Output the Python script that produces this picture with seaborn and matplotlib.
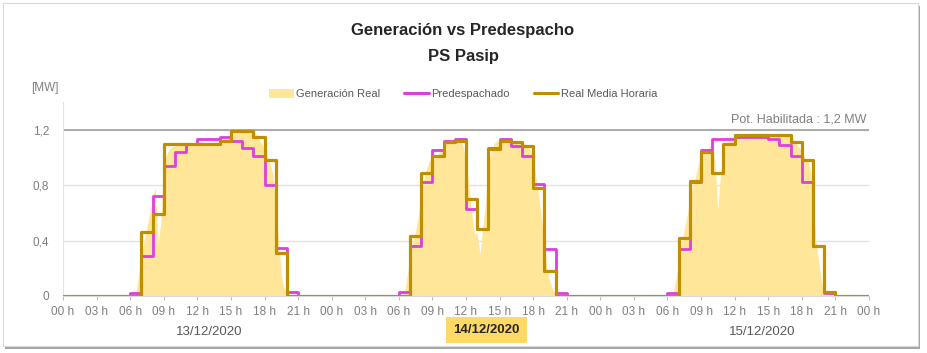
import numpy as np
import pandas as pd
import matplotlib
matplotlib.use("Agg")
import matplotlib.pyplot as plt
import matplotlib.transforms as mtransforms
from matplotlib.patches import Patch, Rectangle
from matplotlib.lines import Line2D
import seaborn as sns

# fechas y etiquetas
dias = ['13/12/2020', '14/12/2020', '15/12/2020']
horas_ticks = list(range(0, 73, 3))
horas_labels = ['%02d h' % (h % 24) for h in horas_ticks]
pos_fechas = [13.1, 37.8, 62.5]

# Predespachado, valores horarios [MW]
pred_d1 = [0, 0, 0, 0, 0, 0, 0.02, 0.29, 0.72, 0.94, 1.04, 1.10, 1.13, 1.13, 1.15, 1.12, 1.07, 1.01, 0.80, 0.35, 0.03, 0, 0, 0]
pred_d2 = [0, 0, 0, 0, 0, 0, 0.03, 0.36, 0.82, 1.05, 1.12, 1.13, 0.63, 0.48, 1.07, 1.13, 1.08, 1.01, 0.81, 0.34, 0.02, 0, 0, 0]
pred_d3 = [0, 0, 0, 0, 0, 0, 0.02, 0.34, 0.82, 1.05, 1.13, 1.13, 1.15, 1.15, 1.15, 1.13, 1.09, 1.01, 0.82, 0.36, 0.02, 0, 0, 0]

# Real media horaria [MW]
real_d1 = [0, 0, 0, 0, 0, 0, 0, 0.46, 0.59, 1.10, 1.10, 1.10, 1.10, 1.10, 1.12, 1.19, 1.19, 1.15, 0.98, 0.31, 0, 0, 0, 0]
real_d2 = [0, 0, 0, 0, 0, 0, 0, 0.43, 0.89, 1.01, 1.11, 1.12, 0.70, 0.48, 1.06, 1.12, 1.11, 1.08, 0.78, 0.18, 0, 0, 0, 0]
real_d3 = [0, 0, 0, 0, 0, 0, 0, 0.42, 0.83, 1.04, 0.89, 1.10, 1.16, 1.16, 1.16, 1.16, 1.16, 1.11, 0.98, 0.36, 0.03, 0, 0, 0]

# Generacion real cada 15 min, de 06:00 a 21:00 (fuera de ese rango = 0)
gen_d1 = [0, 0, 0.02, 0.15,
          0.30, 0.40, 0.50, 0.60,
          0.72, 0.78, 0.37, 0.55,
          0.95, 1.02, 1.06, 1.08,
          1.08, 1.09, 1.09, 1.10,
          1.10, 1.10, 1.10, 1.10,
          1.10, 1.10, 1.10, 1.10,
          1.10, 1.10, 1.11, 1.11,
          1.11, 1.12, 1.12, 1.15,
          1.18, 1.19, 1.19, 1.19,
          1.19, 1.19, 1.19, 1.19,
          1.19, 1.17, 1.13, 1.10,
          1.06, 1.02, 0.95, 0.88,
          0.65, 0.40, 0.15, 0.05,
          0.02, 0.01, 0, 0,
          0]
gen_d2 = [0, 0, 0.03, 0.15,
          0.28, 0.38, 0.47, 0.58,
          0.75, 0.85, 0.93, 0.98,
          0.98, 1.00, 1.02, 1.05,
          1.08, 1.10, 1.12, 1.13,
          1.13, 1.13, 1.12, 1.08,
          0.95, 0.80, 0.60, 0.45,
          0.45, 0.30, 0.50, 0.68,
          0.95, 1.05, 1.10, 1.12,
          1.12, 1.13, 1.12, 1.11,
          1.11, 1.11, 1.11, 1.10,
          1.10, 1.10, 1.08, 1.05,
          0.98, 0.85, 0.72, 0.55,
          0.38, 0.18, 0.10, 0.05,
          0.01, 0, 0, 0,
          0]
gen_d3 = [0, 0, 0.02, 0.12,
          0.25, 0.38, 0.48, 0.58,
          0.70, 0.80, 0.86, 0.95,
          1.00, 1.03, 1.05, 1.08,
          1.10, 0.95, 0.62, 0.90,
          1.05, 1.10, 1.12, 1.14,
          1.15, 1.16, 1.16, 1.16,
          1.16, 1.16, 1.16, 1.16,
          1.16, 1.16, 1.16, 1.16,
          1.16, 1.16, 1.16, 1.16,
          1.16, 1.16, 1.16, 1.16,
          1.15, 1.13, 1.10, 1.07,
          1.04, 1.00, 0.97, 0.92,
          0.70, 0.40, 0.25, 0.10,
          0.05, 0.03, 0.02, 0.01,
          0]

pot_habilitada = 1.2

c_gen = '#FFE699'
c_pred = '#DD3FDD'
c_real = '#BF8F00'
c_gris = '#7F7F7F'

# tablas
pred = pred_d1 + pred_d2 + pred_d3
real = real_d1 + real_d2 + real_d3
df_h = pd.DataFrame({'hora': np.arange(73),
                     'pred': pred + [pred[-1]],
                     'real': real + [real[-1]]})

gen = np.zeros(72 * 4 + 1)
for i, g in enumerate([gen_d1, gen_d2, gen_d3]):
    ini = (24 * i + 6) * 4
    gen[ini:ini + len(g)] = g
df_g = pd.DataFrame({'hora': np.arange(len(gen)) / 4.0, 'gen': gen})

sns.set_style('white')
plt.rcParams['font.family'] = ['Liberation Sans', 'DejaVu Sans']

fig = plt.figure(figsize=(9.27, 3.53), dpi=100)

# marco con sombra
fig.patches.append(Rectangle((5 / 927, 4 / 353), 915 / 927, 343 / 353, transform=fig.transFigure,
                             facecolor='#A6A6A6', edgecolor='none', zorder=-2))
fig.patches.append(Rectangle((3 / 927, 7 / 353), 915 / 927, 343 / 353, transform=fig.transFigure,
                             facecolor='white', edgecolor='#D9D9D9', lw=0.8, zorder=-1))

ax = fig.add_axes([63 / 927, 1 - 296 / 353, (869 - 63) / 927, (296 - 102) / 353])

ax.fill_between(df_g['hora'], df_g['gen'], color=c_gen, lw=0, zorder=1)
sns.lineplot(data=df_h, x='hora', y='pred', ax=ax, drawstyle='steps-post', color=c_pred, lw=2.0, zorder=3)
sns.lineplot(data=df_h, x='hora', y='real', ax=ax, drawstyle='steps-post', color=c_real, lw=2.3, zorder=4)

ax.axhline(pot_habilitada, color='#A0A0A0', lw=1.2, zorder=2)
ax.text(71.8, pot_habilitada + 0.03, 'Pot. Habilitada : 1,2 MW', ha='right', va='bottom',
        fontsize=9, color=c_gris)

ax.set_xlim(0, 72)
ax.set_ylim(0, 1.4)
ax.set_yticks([0, 0.4, 0.8, 1.2])
ax.set_yticklabels(['0', '0,4', '0,8', '1,2'])
ax.set_xticks(horas_ticks)
ax.set_xticklabels(horas_labels)
ax.grid(axis='y', color='#E3E3E3', lw=1)
ax.set_axisbelow(True)
ax.tick_params(axis='x', colors='#BFBFBF', labelcolor=c_gris, labelsize=8.5, length=3, width=0.8, pad=4,
               bottom=True)
ax.tick_params(axis='y', labelcolor=c_gris, labelsize=8.5, length=0, pad=10)
ax.set_xlabel('')
ax.set_ylabel('')
for s in ['top', 'right']:
    ax.spines[s].set_visible(False)
ax.spines['left'].set_color('#E3E3E3')
ax.spines['bottom'].set_color('#D9D9D9')

# fechas debajo de las horas
trans = mtransforms.blended_transform_factory(ax.transData, fig.transFigure)
for i, (d, x) in enumerate(zip(dias, pos_fechas)):
    if i == 1:
        ax.text(x, 1 - 330 / 353, d, transform=trans, ha='center', va='center', fontsize=9.5,
                fontweight='bold', color='#262626',
                bbox=dict(boxstyle='square,pad=0.55', facecolor='#FFD966', edgecolor='none'))
    else:
        ax.text(x, 1 - 332 / 353, d, transform=trans, ha='center', va='center', fontsize=9.5, color='#595959')

fig.text(463 / 927, 1 - 31 / 353, 'Generación vs Predespacho', ha='center', va='center',
         fontsize=12, fontweight='bold', color='#262626')
fig.text(463 / 927, 1 - 56 / 353, 'PS Pasip', ha='center', va='center',
         fontsize=12, fontweight='bold', color='#262626')
fig.text(45 / 927, 1 - 88 / 353, '[MW]', ha='center', va='center', fontsize=8.5, color=c_gris)

handles = [Patch(facecolor=c_gen, edgecolor='none'),
           Line2D([], [], color=c_pred, lw=2.2),
           Line2D([], [], color=c_real, lw=2.2)]
fig.legend(handles, ['Generación Real', 'Predespachado', 'Real Media Horaria'],
           loc='center', bbox_to_anchor=(463 / 927, 1 - 94 / 353), ncol=3, frameon=False,
           fontsize=8, labelcolor='#595959', handlelength=2.2, handleheight=0.9,
           handletextpad=0.2, columnspacing=2.2)

fig.savefig('out.png', dpi=100, facecolor='white')
